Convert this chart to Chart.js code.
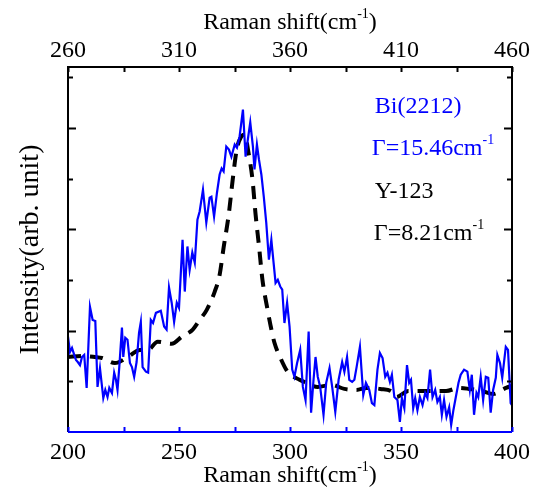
<!DOCTYPE html>
<html>
<head>
<meta charset="utf-8">
<script src="https://cdn.jsdelivr.net/npm/chart.js@4.4.0/dist/chart.umd.min.js"></script>
<style>
  html, body { margin: 0; padding: 0; background: #fff; }
  #wrap { width: 544px; height: 490px; }
</style>
</head>
<body>
<div id="wrap"><canvas id="chart" width="544" height="490"></canvas></div>
<script>
// Raman shift (cm-1), bottom axis
const bottomTicks = [200, 250, 300, 350, 400];
const topTicks = [260, 310, 360, 410, 460];

// Bi(2212) measured spectrum (blue)
const biShift = [200.0,200.9,201.8,202.8,203.6,204.4,205.4,206.3,207.3,208.4,209.9,211.1,212.3,213.3,214.4,215.9,216.8,217.8,218.6,219.8,
  220.8,221.6,222.3,223.1,224.3,224.9,225.8,226.8,227.9,228.8,229.8,230.9,232.0,232.8,233.6,235.1,236.1,237.3,238.3,239.6,
  241.8,243.3,244.4,245.5,246.7,247.8,249.0,250.0,251.6,252.6,253.8,254.8,256.0,257.1,258.3,259.3,260.8,262.3,263.8,264.6,
  265.8,267.1,268.3,269.2,270.1,271.3,272.5,273.6,275.1,276.1,277.3,278.8,280.0,281.0,282.1,283.3,284.0,285.1,286.0,287.1,
  288.2,289.3,290.5,291.6,292.6,293.5,294.5,295.6,296.5,297.5,298.7,299.8,301.0,302.0,303.2,304.6,305.8,307.0,308.4,309.5,
  310.6,311.5,312.5,313.6,315.1,316.3,317.8,319.0,320.4,321.9,323.5,324.5,325.7,326.7,328.0,329.0,330.0,331.5,333.0,334.2,
  335.7,336.9,338.0,339.4,340.5,341.7,342.9,343.9,345.0,345.9,347.0,348.4,349.5,350.4,351.5,352.7,353.7,354.5,355.5,356.4,
  357.4,358.5,359.7,360.9,361.9,363.1,364.2,365.4,366.4,367.5,368.4,369.4,370.5,371.7,372.6,373.6,374.7,375.9,376.9,378.4,
  379.9,381.0,381.9,382.9,384.0,384.8,385.9,387.0,388.2,389.3,390.4,391.5,392.7,393.4,394.6,395.6,397.2,398.2,399.4,400.0];
const biIntensity = [1.88,1.58,1.66,1.52,1.42,1.38,1.32,1.48,1.52,0.87,2.47,2.21,2.19,0.89,1.26,0.67,0.83,0.69,0.87,0.77,
  1.17,1.03,0.83,1.28,2.06,1.48,1.86,1.82,1.36,1.28,1.09,1.38,1.96,2.17,1.28,1.19,1.17,2.21,2.15,2.35,
  2.39,2.08,2.02,2.85,2.55,2.17,2.55,2.45,3.79,2.77,3.66,3.20,3.54,3.34,4.19,4.35,4.78,4.13,4.62,4.64,
  4.25,4.72,5.08,5.20,5.14,5.63,5.57,5.43,5.67,5.61,5.83,6.36,5.43,5.77,6.11,5.63,5.18,5.67,5.38,5.08,
  4.64,4.13,3.40,3.79,3.34,2.94,3.00,2.87,2.81,2.15,2.55,2.08,1.23,1.09,1.36,1.62,0.89,0.63,1.98,0.38,
  1.03,1.48,1.09,0.89,0.34,0.97,1.26,0.89,0.40,1.03,1.38,1.19,1.48,1.03,0.99,1.03,1.28,1.68,0.73,0.97,
  0.83,0.57,0.53,1.23,1.56,1.46,1.09,1.17,0.99,1.13,0.69,0.63,0.20,0.67,0.47,1.32,0.97,1.03,0.47,0.67,
  0.43,0.69,0.53,0.77,0.67,1.23,0.69,0.83,0.59,0.69,0.34,0.63,0.30,0.49,0.14,0.43,0.69,0.97,1.13,1.23,
  1.19,0.83,1.13,0.34,0.77,0.69,1.09,0.63,1.09,1.07,0.38,0.83,1.07,1.52,1.36,1.07,1.68,1.62,0.57,0.53];

// Y-123 reference line (black dashed)
const yShift = [200,206.7,212.1,215.3,221.1,227,232.4,236,240.4,246.7,251.2,256.2,259.3,262.5,266.1,268.3,270.1,272.4,274.2,276,
  277.8,279.6,281.3,283.1,284.5,286.1,287.6,289.9,291.2,293,295.7,298.9,304.3,307.4,312.4,318.7,324.5,329.9,334.4,340.7,
  346.1,347.9,353.3,359.1,364.9,370.3,376.2,380.7,386.5,391.5,397.3,400];
const yIntensity = [1.48,1.50,1.48,1.46,1.36,1.48,1.62,1.62,1.78,1.74,1.88,2.02,2.21,2.41,2.77,3.10,3.64,4.29,4.98,5.57,
  5.81,5.87,5.51,4.98,4.29,3.64,3.00,2.41,2.11,1.76,1.46,1.19,1.03,0.97,0.89,0.93,0.85,0.83,0.87,0.85,
  0.79,0.69,0.81,0.81,0.81,0.81,0.87,0.85,0.81,0.75,0.87,0.91];

const FONT = '"Liberation Serif", "Times New Roman", serif';
const BLUE = '#0000ff';

// text with superscript pieces: parts = [[text, isSup], ...]
function drawParts(ctx, parts, x, y, size, align) {
  const base = size + 'px ' + FONT;
  const small = Math.round(size * 0.6) + 'px ' + FONT;
  let w = 0;
  parts.forEach(p => { ctx.font = p[1] ? small : base; w += ctx.measureText(p[0]).width; });
  let cx = align === 'center' ? x - w / 2 : x;
  ctx.textAlign = 'left';
  ctx.textBaseline = 'alphabetic';
  parts.forEach(p => {
    ctx.font = p[1] ? small : base;
    ctx.fillText(p[0], cx, p[1] ? y - size * 0.45 : y);
    cx += ctx.measureText(p[0]).width;
  });
}

const framePlugin = {
  id: 'frame',
  afterDatasetsDraw(chart) {
    const ctx = chart.ctx;
    const a = chart.chartArea;
    const sx = chart.scales.x, sx2 = chart.scales.x2, sy = chart.scales.y;
    ctx.save();
    ctx.lineWidth = 2;
    ctx.strokeStyle = '#000';
    ctx.beginPath();
    ctx.moveTo(a.left, a.bottom);
    ctx.lineTo(a.left, a.top);
    ctx.lineTo(a.right, a.top);
    ctx.lineTo(a.right, a.bottom);
    ctx.stroke();

    // y ticks, inward, both sides
    for (let v = 1; v <= 7; v++) {
      const py = Math.round(sy.getPixelForValue(v)) + 0.5;
      const len = v % 2 === 0 ? 8 : 5;
      ctx.beginPath();
      ctx.moveTo(a.left, py); ctx.lineTo(a.left + len, py);
      ctx.moveTo(a.right, py); ctx.lineTo(a.right - len, py);
      ctx.stroke();
    }
    // top ticks
    sx2.ticks.forEach(t => {
      const px = Math.round(sx2.getPixelForValue(t.value)) + 0.5;
      ctx.beginPath(); ctx.moveTo(px, a.top); ctx.lineTo(px, a.top + 5); ctx.stroke();
    });
    // bottom axis is drawn in blue
    ctx.strokeStyle = BLUE;
    sx.ticks.forEach(t => {
      const px = Math.round(sx.getPixelForValue(t.value)) + 0.5;
      ctx.beginPath(); ctx.moveTo(px, a.bottom); ctx.lineTo(px, a.bottom - 5); ctx.stroke();
    });
    ctx.beginPath();
    ctx.moveTo(a.left, a.bottom); ctx.lineTo(a.right, a.bottom);
    ctx.stroke();
    ctx.restore();
  },
  afterDraw(chart) {
    const ctx = chart.ctx;
    const a = chart.chartArea;
    const sx = chart.scales.x, sy = chart.scales.y;
    const mid = (a.left + a.right) / 2;
    ctx.save();
    ctx.fillStyle = '#000';
    drawParts(ctx, [['Raman shift(cm', false], ['-1', true], [')', false]], mid, 29, 24, 'center');
    drawParts(ctx, [['Raman shift(cm', false], ['-1', true], [')', false]], mid, 482, 24, 'center');

    ctx.save();
    ctx.translate(31, (a.top + a.bottom) / 2);
    ctx.rotate(-Math.PI / 2);
    ctx.font = '28px ' + FONT;
    ctx.textAlign = 'center';
    ctx.textBaseline = 'middle';
    ctx.fillText('Intensity(arb. unit)', 0, 0);
    ctx.restore();

    // in-plot labels
    const lx = sx.getPixelForValue(338.2);
    ctx.fillStyle = BLUE;
    drawParts(ctx, [['Bi(2212)', false]], lx, sy.getPixelForValue(6.3), 24, 'left');
    drawParts(ctx, [['\u0393=15.46cm', false], ['-1', true]], lx - 3, sy.getPixelForValue(5.47), 24, 'left');
    ctx.fillStyle = '#000';
    drawParts(ctx, [['Y-123', false]], lx, sy.getPixelForValue(4.62), 24, 'left');
    drawParts(ctx, [['\u0393=8.21cm', false], ['-1', true]], lx - 1, sy.getPixelForValue(3.79), 24, 'left');
    ctx.restore();
  }
};

const tickFont = { family: FONT, size: 24 };

new Chart(document.getElementById('chart').getContext('2d'), {
  type: 'line',
  data: {
    datasets: [
      {
        label: 'Bi(2212)',
        data: biShift.map((x, i) => ({ x: x, y: biIntensity[i] })),
        borderColor: BLUE,
        borderWidth: 2.2,
        pointRadius: 0,
        tension: 0,
        xAxisID: 'x',
        yAxisID: 'y'
      },
      {
        label: 'Y-123',
        data: yShift.map((x, i) => ({ x: x, y: yIntensity[i] })),
        borderColor: '#000',
        borderWidth: 4,
        borderDash: [13, 9],
        pointRadius: 0,
        cubicInterpolationMode: 'monotone',
        xAxisID: 'x',
        yAxisID: 'y'
      }
    ]
  },
  options: {
    responsive: false,
    animation: false,
    devicePixelRatio: 1,
    layout: { padding: 0 },
    plugins: { legend: { display: false }, tooltip: { enabled: false } },
    scales: {
      x: {
        type: 'linear', position: 'bottom', min: 200, max: 400,
        grid: { display: false }, border: { display: false },
        ticks: {
          stepSize: 25, autoSkip: false, maxRotation: 0, padding: -2, color: '#000', font: tickFont,
          callback: v => bottomTicks.includes(v) ? String(v) : ''
        },
        afterFit: s => { s.height = 58; }
      },
      x2: {
        type: 'linear', position: 'top', min: 260, max: 460,
        grid: { display: false }, border: { display: false },
        ticks: {
          stepSize: 25, autoSkip: false, maxRotation: 0, padding: -6, color: '#000', font: tickFont,
          callback: v => topTicks.includes(v) ? String(v) : ''
        },
        afterFit: s => { s.height = 67; }
      },
      y: {
        min: 0, max: 7.2,
        grid: { display: false }, border: { display: false },
        ticks: { display: false, stepSize: 1 },
        afterFit: s => { s.width = 68; }
      },
      y2: {
        position: 'right', min: 0, max: 7.2,
        grid: { display: false }, border: { display: false },
        ticks: { display: false, stepSize: 1 },
        afterFit: s => { s.width = 32; }
      }
    }
  },
  plugins: [framePlugin]
});
</script>
</body>
</html>
